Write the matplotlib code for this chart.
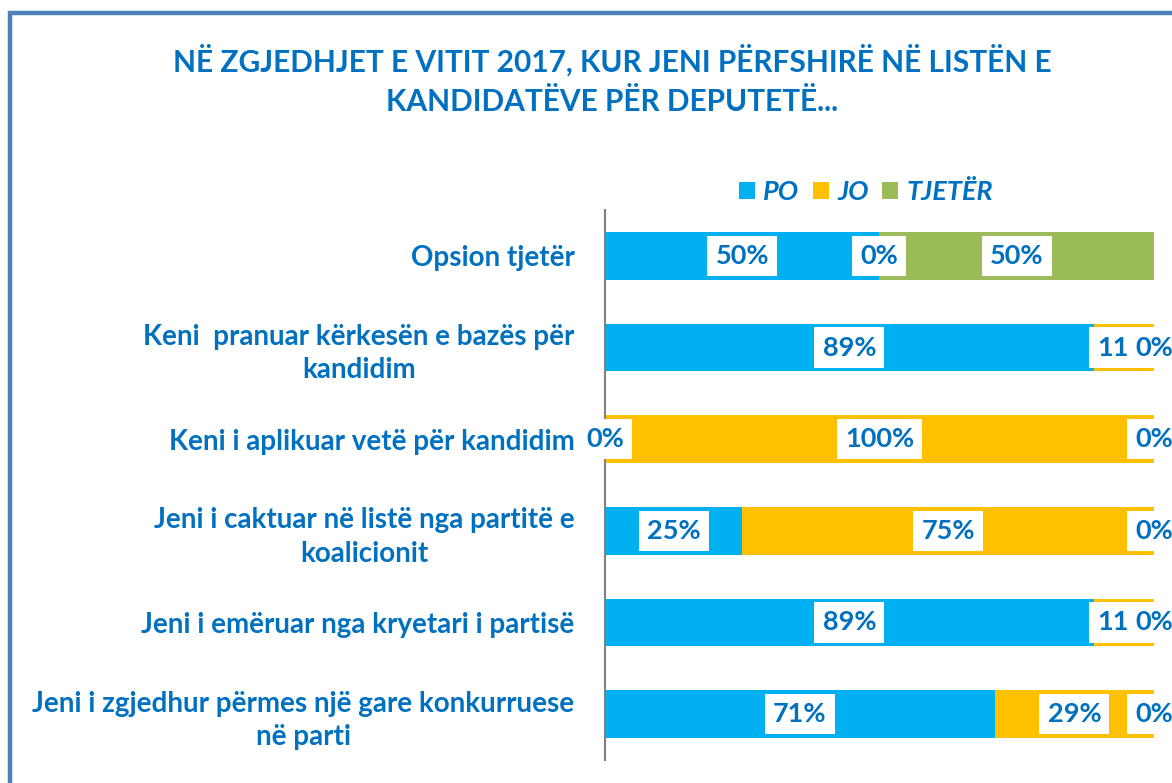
import matplotlib
matplotlib.use("Agg")
import matplotlib.pyplot as plt
from matplotlib.patches import Patch, Rectangle

categories = [
    "Opsion tjetër",
    "Keni  pranuar kërkesën e bazës për\nkandidim",
    "Keni i aplikuar vetë për kandidim",
    "Jeni i caktuar në listë nga partitë e\nkoalicionit",
    "Jeni i emëruar nga kryetari i partisë",
    "Jeni i zgjedhur përmes një gare konkurruese\nnë parti",
]
series_names = ["PO", "JO", "TJETËR"]
po = [50, 89, 0, 25, 89, 71]
jo = [0, 11, 100, 75, 11, 29]
tjeter = [50, 0, 0, 0, 0, 0]
title = "NË ZGJEDHJET E VITIT 2017, KUR JENI PËRFSHIRË NË LISTËN E\nKANDIDATËVE PËR DEPUTETË..."

colors = ["#00B0F0", "#FFC000", "#9BBB59"]
text_color = "#0070C0"
font = ["Lato", "DejaVu Sans"]
plt.rcParams["font.family"] = font

fig = plt.figure(figsize=(11.72, 7.83), dpi=100)
ax = fig.add_axes([605/1172, 23/783, 549/1172, 550/783])

# frame
fig.patches.append(Rectangle((10/1172, -0.1), 1.2, 1 - 13/783 + 0.1, transform=fig.transFigure,
                             fill=False, edgecolor="#4F81BD", linewidth=3.2, zorder=0))

y = list(range(len(categories)))
left = [0] * len(categories)
all_series = [po, jo, tjeter]
for vals, col, name in zip(all_series, colors, series_names):
    ax.barh(y, vals, left=left, color=col, height=0.52, label=name, zorder=2)
    left = [l + v for l, v in zip(left, vals)]

# data labels (drawn in series order so later ones overlap earlier)
left = [0] * len(categories)
z = 5
for si, vals in enumerate(all_series):
    for i, v in enumerate(vals):
        show = True
        if si == 0 and v == 0 and i != 2:
            show = False
        if si == 1 and v == 0 and i != 0:
            show = False
        if show:
            ax.text(left[i] + v / 2, i, f"{v}%", ha="center", va="center",
                    fontsize=19.5, fontweight="bold", color=text_color, zorder=z,
                    bbox=dict(boxstyle="square,pad=0.3", facecolor="white", edgecolor="none"))
        z += 1
    left = [l + v for l, v in zip(left, vals)]

ax.set_xlim(0, 100)
ax.set_ylim(len(categories) - 0.5, -0.5)
ax.set_yticks(y)
ax.set_yticklabels(categories, fontsize=20, fontweight="bold", color=text_color,
                   multialignment="center", linespacing=1.35)
ax.tick_params(axis="y", length=0, pad=22)
ax.set_xticks([])
for s in ["top", "right", "bottom"]:
    ax.spines[s].set_visible(False)
ax.spines["left"].set_color("#808080")
ax.spines["left"].set_linewidth(1.5)
for t in ax.texts:
    t.set_clip_on(False)

handles = [Patch(facecolor=c, edgecolor="none") for c in colors]
leg = fig.legend(handles, series_names, loc="center", bbox_to_anchor=(866/1172, 1 - 192/783),
                 ncol=3, frameon=False, handlelength=0.6, handleheight=0.6, handletextpad=0.3,
                 columnspacing=0.5, prop=dict(family=font, size=19.5, weight="bold", style="italic"))
for t in leg.get_texts():
    t.set_color(text_color)

fig.text(612/1172, 1 - 80/783, title, ha="center", va="center", fontsize=21.5,
         fontweight="bold", color=text_color, linespacing=1.5)

fig.savefig("out.png", dpi=100)
